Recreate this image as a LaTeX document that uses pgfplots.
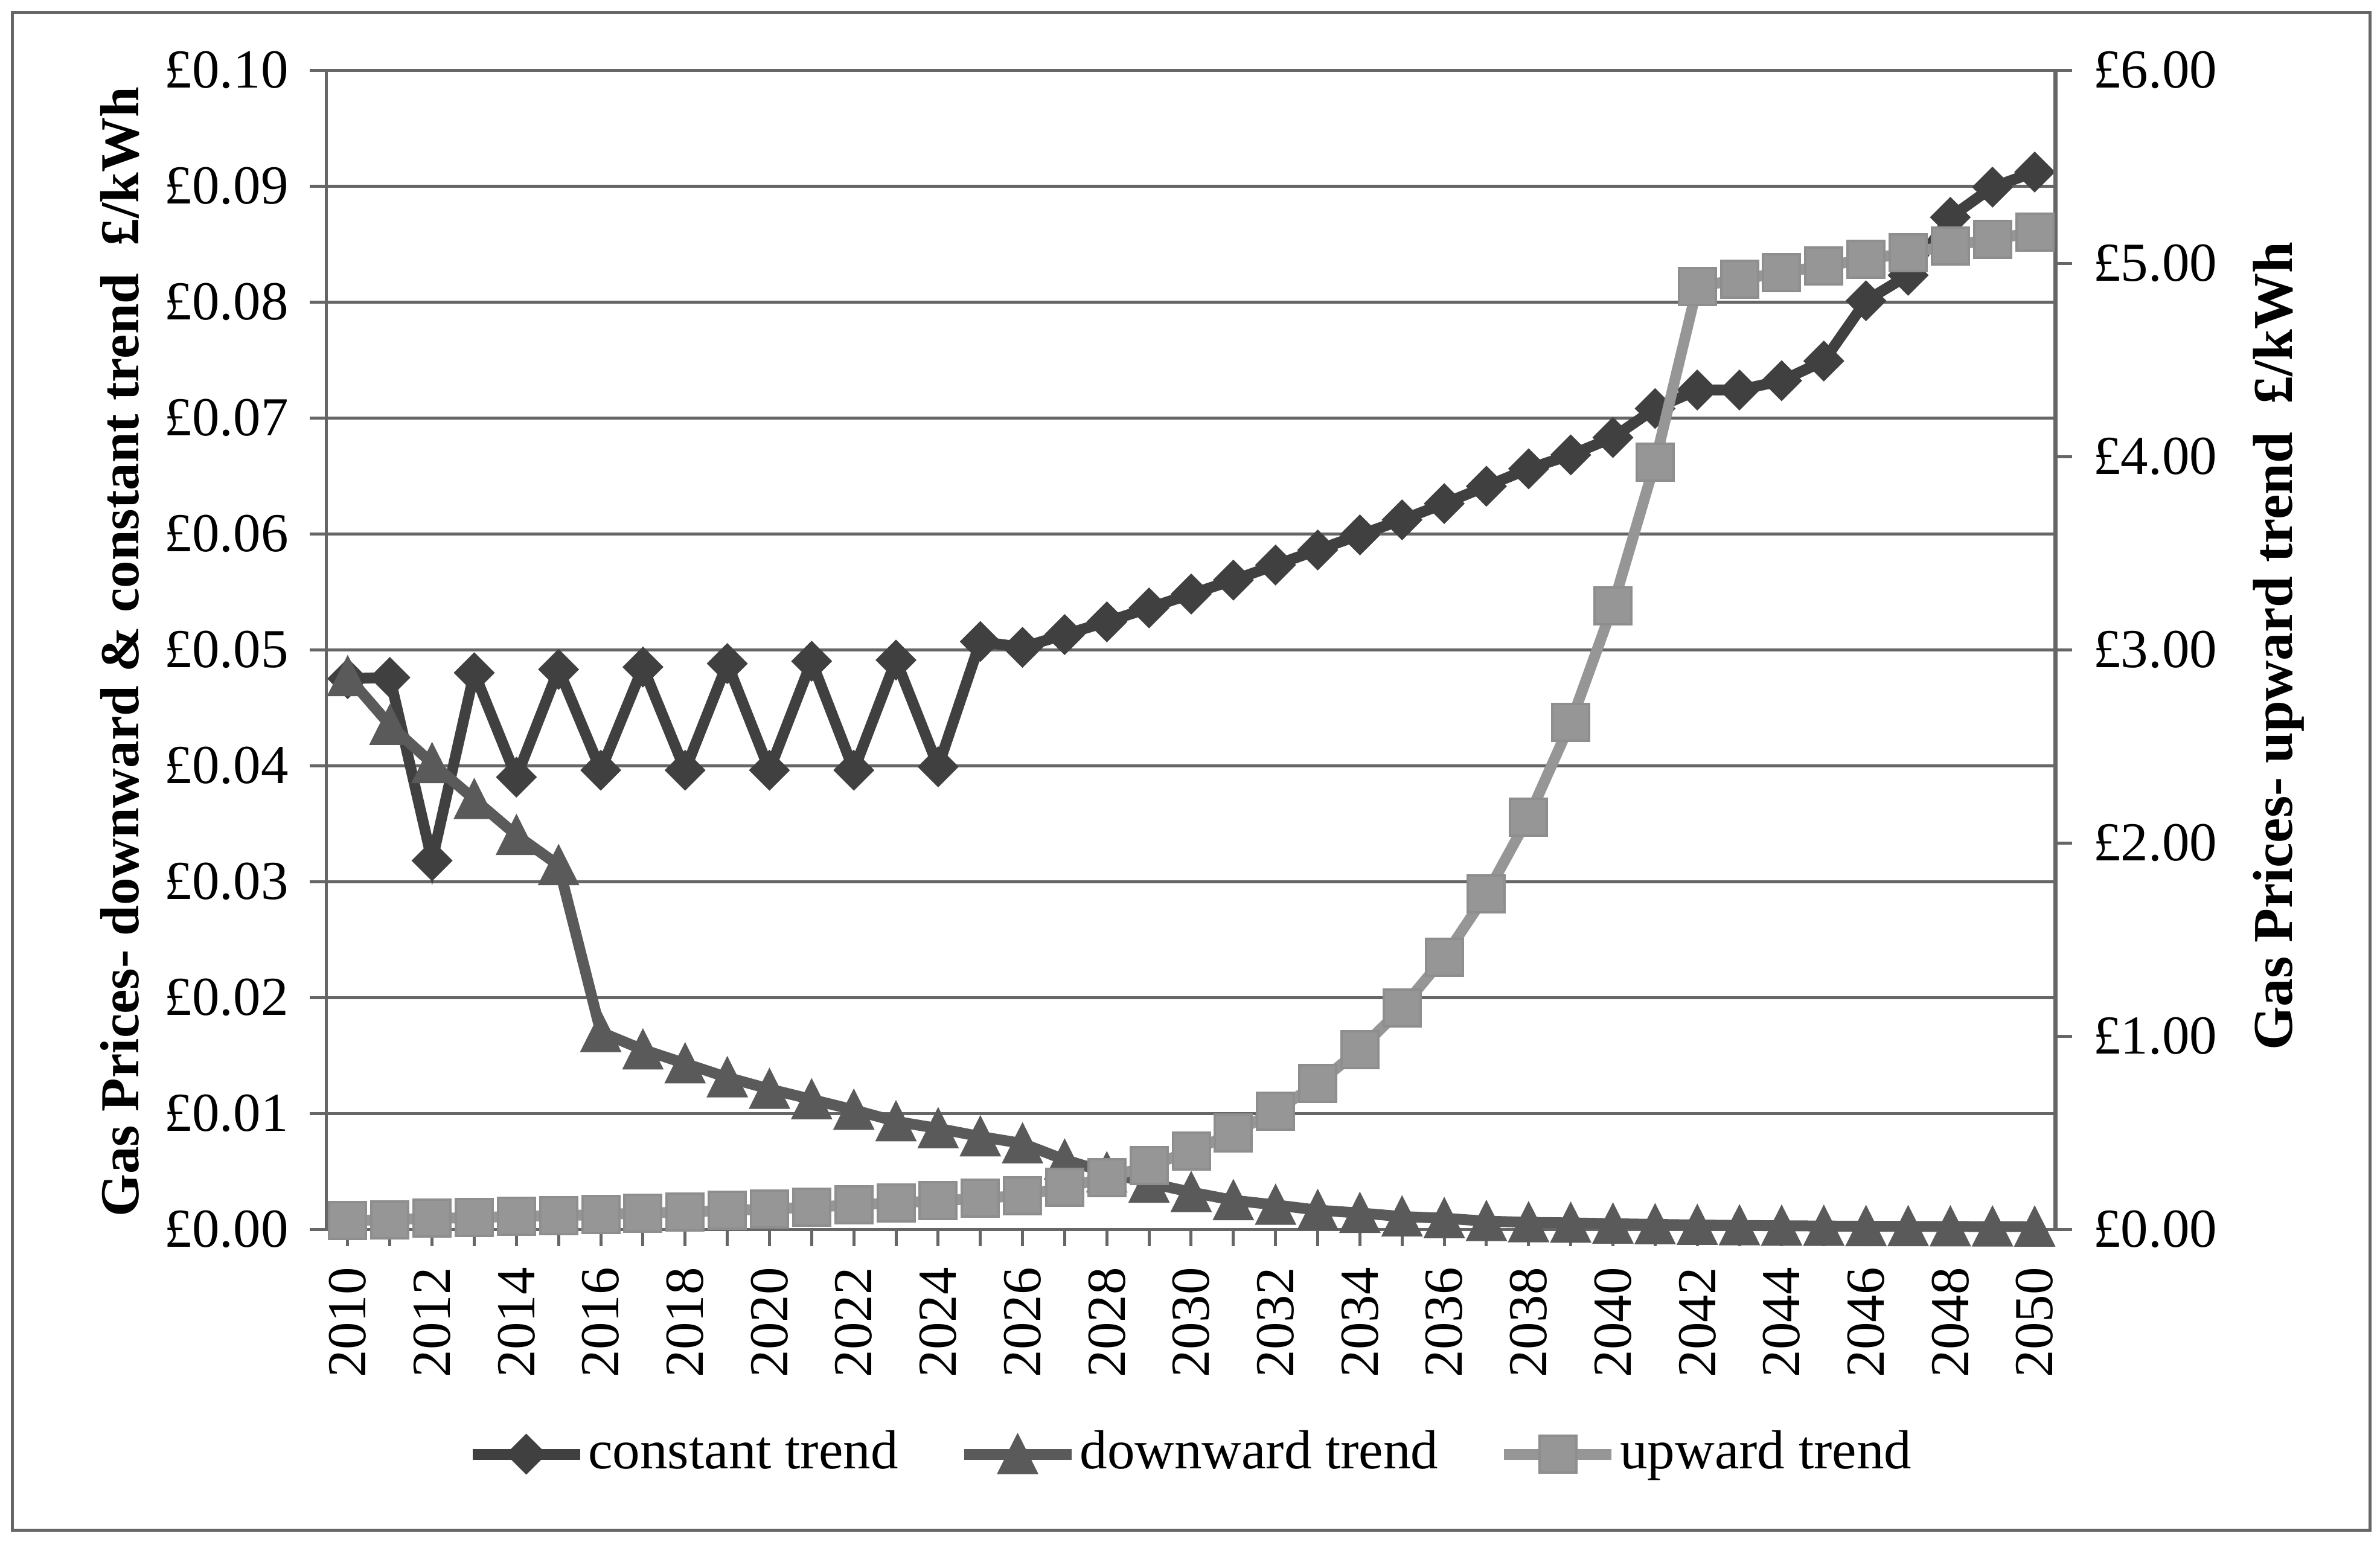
\documentclass[border=0pt]{standalone}
\usepackage{fontspec}
\setmainfont{Liberation Serif}
\usepackage{pgfplots}
\pgfplotsset{compat=1.18}
\usepackage{pgfplotstable}
\definecolor{gridgray}{HTML}{666666}
\definecolor{cconst}{HTML}{404040}
\definecolor{cdown}{HTML}{5A5A5A}
\definecolor{cup}{HTML}{969696}

\pgfplotstableread{
year const down up
2010 0.0475 0.0477 0.044
2011 0.0476 0.0435 0.050
2012 0.0318 0.0402 0.057
2013 0.0480 0.0371 0.060
2014 0.0390 0.0340 0.067
2015 0.0483 0.0314 0.070
2016 0.0396 0.0170 0.076
2017 0.0485 0.0155 0.084
2018 0.0396 0.0143 0.089
2019 0.0488 0.0131 0.097
2020 0.0396 0.0121 0.105
2021 0.0490 0.0112 0.115
2022 0.0396 0.0103 0.126
2023 0.0491 0.0093 0.137
2024 0.0399 0.0087 0.147
2025 0.0507 0.0080 0.160
2026 0.0502 0.0074 0.175
2027 0.0513 0.0060 0.217
2028 0.0524 0.0049 0.267
2029 0.0536 0.0040 0.329
2030 0.0548 0.0032 0.404
2031 0.0560 0.0025 0.498
2032 0.0573 0.0021 0.612
2033 0.0586 0.00165 0.756
2034 0.0599 0.0014 0.930
2035 0.0612 0.0011 1.146
2036 0.0626 0.00095 1.408
2037 0.0641 0.0007 1.735
2038 0.0656 0.0006 2.134
2039 0.0668 0.00055 2.623
2040 0.0683 0.00048 3.227
2041 0.0708 0.00042 3.970
2042 0.0724 0.00037 4.880
2043 0.0724 0.00033 4.916
2044 0.0732 0.00030 4.952
2045 0.0749 0.00028 4.986
2046 0.0801 0.00026 5.020
2047 0.0823 0.00025 5.055
2048 0.0873 0.00024 5.090
2049 0.0899 0.00023 5.125
2050 0.0912 0.00022 5.160
}\gasdata

\pgfplotsset{
  conststyle/.style={color=cconst, line width=1.8pt, mark=square*,
    mark size=2.2pt, mark options={solid, rotate=45, line width=0.4pt, fill=cconst, draw=cconst}},
  downstyle/.style={color=cdown, line width=1.8pt, mark=triangle*,
    mark size=3.6pt, mark options={solid, yshift=-1.03pt, yscale=1.15, line width=0.4pt, fill=cdown, draw=cdown}},
  upstyle/.style={color=cup, line width=1.8pt, mark=square*,
    mark size=3.05pt, mark options={solid, line width=0.4pt, fill=cup, draw=cup!95!black}},
  basefont/.style={font=\fontsize{9.1}{10.5}\selectfont},
}

\begin{document}
\begin{tikzpicture}
\draw[gridgray, line width=0.5pt] (2pt,1.9pt) rectangle (392.5pt,253.3pt);
\begin{axis}[
  at={(54.1pt,51.7pt)}, anchor=south west,
  scale only axis, width=286.4pt, height=192pt,
  xmin=2009.5, xmax=2050.5, ymin=0, ymax=0.1,
  clip=false,
  axis x line*=bottom, axis y line*=left,
  axis line style={draw=gridgray, line width=0.5pt, -},
  xtick={2010,2012,...,2050},
  minor xtick={2011,2013,...,2049},
  ytick={0,0.01,0.02,0.03,0.04,0.05,0.06,0.07,0.08,0.09,0.1},
  tick align=outside,
  major tick length=2.8pt, minor tick length=2.8pt,
  tick style={draw=gridgray, line width=0.5pt},
  ymajorgrids, major grid style={draw=gridgray, line width=0.5pt},
  yticklabel={£\pgfmathprintnumber[fixed,fixed zerofill,precision=2,assume math mode=true]{\tick}},
  xticklabel={\pgfmathprintnumber[1000 sep={},assume math mode=true]{\tick}},
  x tick label style={rotate=90, anchor=east, basefont},
  y tick label style={basefont},
  ylabel={Gas Prices- downward \& constant trend\ \ £/kWh},
  ylabel style={at={(axis description cs:-0.1195,0.498)}, anchor=center,
    font=\bfseries\fontsize{9.1}{10.5}\selectfont},
  legend columns=3,
  legend style={at={(axis description cs:0.0805,-0.194)}, anchor=west,
    draw=none, fill=none, inner sep=0pt, basefont,
    /tikz/every even column/.append style={column sep=9.5pt},
    nodes={inner sep=0.5pt}},
  legend image code/.code={\draw[mark repeat=2,mark phase=2] plot coordinates {(0pt,0pt)(8.9pt,0pt)(17.8pt,0pt)};},
]
\addplot[conststyle] table[x=year,y=const] {\gasdata};
\addlegendentry{constant trend}
\addplot[downstyle] table[x=year,y=down] {\gasdata};
\addlegendentry{downward trend}
\addlegendimage{upstyle}
\addlegendentry{upward trend}
\end{axis}
\begin{axis}[
  at={(54.1pt,51.7pt)}, anchor=south west,
  scale only axis, width=286.4pt, height=192pt,
  xmin=2009.5, xmax=2050.5, ymin=0, ymax=6,
  clip=false,
  axis x line=none, axis y line*=right,
  axis line style={draw=gridgray, line width=0.7pt, -},
  ytick={0,1,2,3,4,5,6},
  tick align=outside, major tick length=2.7pt,
  tick style={draw=gridgray, line width=0.5pt},
  yticklabel={£\pgfmathprintnumber[fixed,fixed zerofill,precision=2,assume math mode=true]{\tick}},
  y tick label style={basefont},
  ylabel={Gas Prices- upward trend\ \ £/kWh},
  ylabel style={at={(axis description cs:1.129,0.503)}, anchor=center,
    font=\bfseries\fontsize{9.3}{10.5}\selectfont},
]
\addplot[upstyle] table[x=year,y=up] {\gasdata};
\end{axis}
\pgfresetboundingbox
\path[use as bounding box] (0,0) rectangle (394.2pt,255.3pt);
\end{tikzpicture}
\end{document}
